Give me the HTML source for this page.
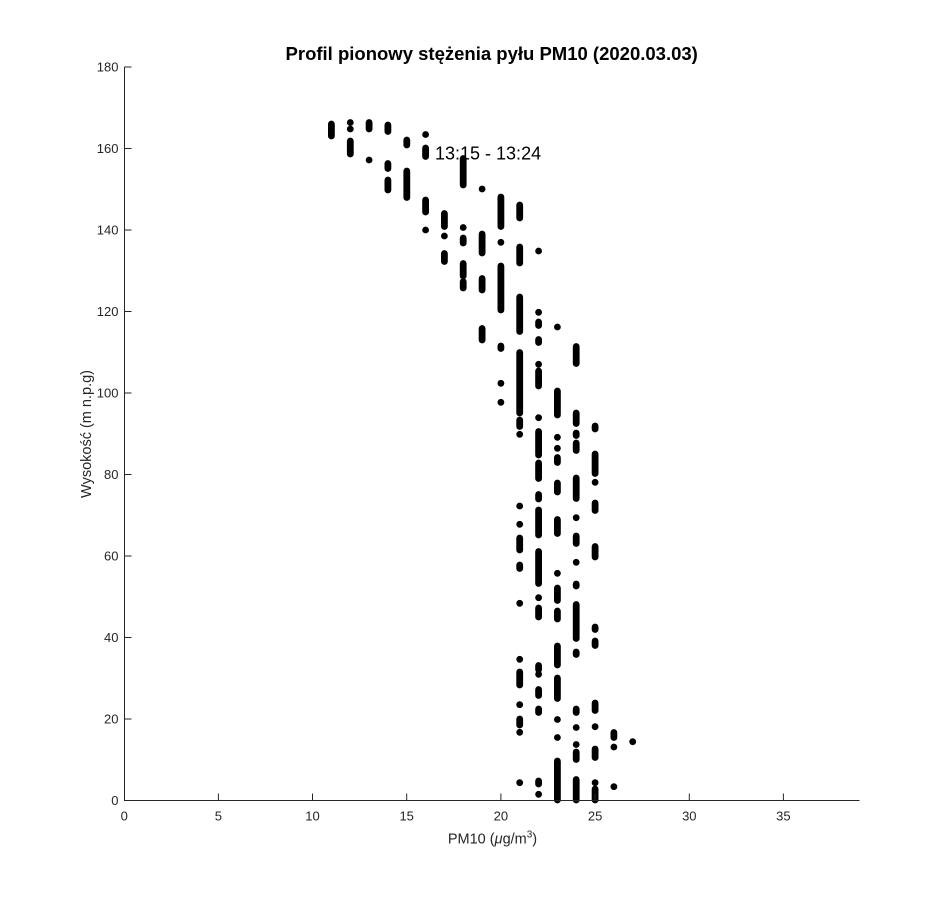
<!DOCTYPE html>
<html>
<head>
<meta charset="utf-8">
<style>
  html, body { margin: 0; padding: 0; background: #ffffff; }
  svg { display: block; }
  text { font-family: "Liberation Sans", Arial, sans-serif; }
</style>
</head>
<body>
<svg width="950" height="900" viewBox="0 0 950 900" xmlns="http://www.w3.org/2000/svg">
  <rect x="0" y="0" width="950" height="900" fill="#ffffff"/>

  <!-- data points -->
  <path fill="none" stroke="#000" stroke-width="6.8" stroke-linecap="round" d="
    M331.4 124V136
    M350.3 122.5v0.01 M350.3 129v0.01 M350.3 141V154
    M369.1 122.5V129 M369.1 160v0.01
    M387.9 125V131.5 M387.9 163.5V168.5 M387.9 180V190
    M406.8 140V145 M406.8 171V197.5
    M425.6 134.5v0.01 M425.6 148V156.5 M425.6 200V212 M425.6 230v0.01
    M444.4 213.5V226.5 M444.4 236v0.01 M444.4 253.5V261.5
    M463.2 158.5V185 M463.2 227.5v0.01 M463.2 238V243 M463.2 263.5V276 M463.2 281.5V288
    M482.1 189v0.01 M482.1 234V253 M482.1 278.5V290 M482.1 328.5V340
    M500.9 197V226.5 M500.9 242.3v0.01 M500.9 266V310 M500.9 346V348.5 M500.9 383.3v0.01 M500.9 402.3v0.01
    M519.7 205V218 M519.7 247V263 M519.7 297V331.5 M519.7 352.5V413 M519.7 420V426.5 M519.7 434.3v0.01
    M519.7 506v0.01 M519.7 524.3v0.01 M519.7 538V550 M519.7 565V568.5 M519.7 603.3v0.01 M519.7 659.3v0.01
    M519.7 672V685 M519.7 704.7v0.01 M519.7 719V725 M519.7 732.3v0.01 M519.7 782.7v0.01
    M538.6 251v0.01 M538.6 312.3v0.01 M538.6 322V325.5 M538.6 339.5V342.5 M538.6 364.3v0.01 M538.6 371V386
    M538.6 417.7v0.01 M538.6 431.5V455 M538.6 463V478.5 M538.6 494.5V499 M538.6 510V535 M538.6 551.5V583.5
    M538.6 597.7v0.01 M538.6 608V617 M538.6 665.5V669.5 M538.6 674.3v0.01 M538.6 689.5V695.5 M538.6 709V712.5
    M538.6 781V784 M538.6 794.3v0.01
    M557.4 327v0.01 M557.4 391V415 M557.4 437.3v0.01 M557.4 448.3v0.01 M557.4 457.5V462.5 M557.4 483V492
    M557.4 519.5V533.5 M557.4 573.3v0.01 M557.4 588V600.5 M557.4 611V619 M557.4 646V665 M557.4 678V698.5
    M557.4 719.5v0.01 M557.4 737.5v0.01 M557.4 761V800
    M576.2 346.5V363.5 M576.2 413V423.5 M576.2 433V435.5 M576.2 443V450.5 M576.2 478V498.5 M576.2 517.7v0.01
    M576.2 536V543.5 M576.2 562.3v0.01 M576.2 584V586 M576.2 604.5V638.5 M576.2 652V654.5 M576.2 709V712.5
    M576.2 727.5v0.01 M576.2 744.5v0.01 M576.2 752V759.5 M576.2 779.5V800
    M595.1 426V429 M595.1 454V473.5 M595.1 482.3v0.01 M595.1 503V510.5 M595.1 546.5V557 M595.1 627V629.5
    M595.1 641V645.5 M595.1 703V710.5 M595.1 726.7v0.01 M595.1 749V757.5 M595.1 782.7v0.01 M595.1 789V800
    M613.9 732.5V737.5 M613.9 747v0.01 M613.9 786.7v0.01
    M632.7 741.7v0.01
  "/>

  <!-- axes -->
  <g stroke="#262626" stroke-width="1" fill="none">
    <line x1="124.5" y1="67" x2="124.5" y2="801"/>
    <line x1="124" y1="800.5" x2="859.5" y2="800.5"/>
    <!-- y ticks -->
    <line x1="124.5" y1="67" x2="131.5" y2="67"/>
    <line x1="124.5" y1="148.5" x2="131.5" y2="148.5"/>
    <line x1="124.5" y1="230" x2="131.5" y2="230"/>
    <line x1="124.5" y1="311.5" x2="131.5" y2="311.5"/>
    <line x1="124.5" y1="393" x2="131.5" y2="393"/>
    <line x1="124.5" y1="474.5" x2="131.5" y2="474.5"/>
    <line x1="124.5" y1="556" x2="131.5" y2="556"/>
    <line x1="124.5" y1="637.5" x2="131.5" y2="637.5"/>
    <line x1="124.5" y1="719" x2="131.5" y2="719"/>
    <!-- x ticks -->
    <line x1="218.4" y1="800.5" x2="218.4" y2="793.5"/>
    <line x1="312.5" y1="800.5" x2="312.5" y2="793.5"/>
    <line x1="406.7" y1="800.5" x2="406.7" y2="793.5"/>
    <line x1="500.9" y1="800.5" x2="500.9" y2="793.5"/>
    <line x1="595.1" y1="800.5" x2="595.1" y2="793.5"/>
    <line x1="689.3" y1="800.5" x2="689.3" y2="793.5"/>
    <line x1="783.4" y1="800.5" x2="783.4" y2="793.5"/>
  </g>

  <!-- y tick labels -->
  <g font-size="13" fill="#262626" text-anchor="end">
    <text x="118.5" y="71.5">180</text>
    <text x="118.5" y="153">160</text>
    <text x="118.5" y="234.5">140</text>
    <text x="118.5" y="316">120</text>
    <text x="118.5" y="397.5">100</text>
    <text x="118.5" y="479">80</text>
    <text x="118.5" y="560.5">60</text>
    <text x="118.5" y="642">40</text>
    <text x="118.5" y="723.5">20</text>
    <text x="118.5" y="805">0</text>
  </g>

  <!-- x tick labels -->
  <g font-size="13" fill="#262626" text-anchor="middle">
    <text x="124.3" y="820.5">0</text>
    <text x="218.4" y="820.5">5</text>
    <text x="312.5" y="820.5">10</text>
    <text x="406.7" y="820.5">15</text>
    <text x="500.9" y="820.5">20</text>
    <text x="595.1" y="820.5">25</text>
    <text x="689.3" y="820.5">30</text>
    <text x="783.4" y="820.5">35</text>
  </g>

  <!-- axis labels -->
  <text x="492.5" y="843.5" font-size="14.5" fill="#262626" text-anchor="middle">PM10 (<tspan font-style="italic">μ</tspan>g/m<tspan dy="-6" font-size="10">3</tspan><tspan dy="6">)</tspan></text>
  <text transform="translate(91,434) rotate(-90)" x="0" y="0" font-size="14.5" fill="#262626" text-anchor="middle">Wysokość (m n.p.g)</text>

  <!-- title -->
  <text x="491.7" y="60" font-size="18.5" font-weight="bold" fill="#000" text-anchor="middle">Profil pionowy stężenia pyłu PM10 (2020.03.03)</text>

  <!-- annotation -->
  <text x="435" y="159.3" font-size="18" fill="#000">13:15 - 13:24</text>
</svg>
</body>
</html>
